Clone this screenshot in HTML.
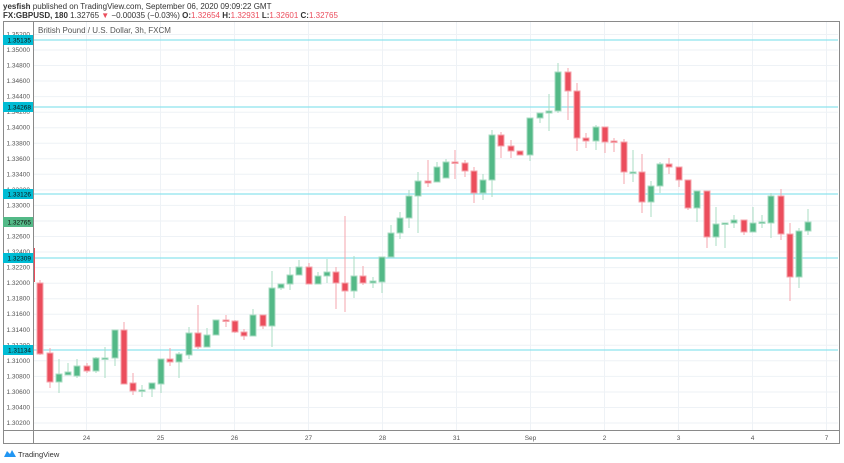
<!DOCTYPE html>
<html><head><meta charset="utf-8"><style>
html,body{margin:0;padding:0;background:#fff;width:844px;height:463px;overflow:hidden;font-family:"Liberation Sans",sans-serif}
</style></head><body>
<svg width="844" height="463" xmlns="http://www.w3.org/2000/svg" font-family="Liberation Sans, sans-serif">
<rect width="844" height="463" fill="#fff"/>
<text x="3" y="9" font-size="8" fill="#333"><tspan font-weight="bold">yesfish</tspan> published on TradingView.com, September 06, 2020 09:09:22 GMT</text>
<text x="3" y="18" font-size="8" fill="#333"><tspan font-weight="bold">FX:GBPUSD, 180</tspan> 1.32765 <tspan fill="#eb4d5c">▼</tspan> −0.00035 (−0.03%) <tspan font-weight="bold">O:</tspan><tspan fill="#eb4d5c">1.32654</tspan> <tspan font-weight="bold">H:</tspan><tspan fill="#eb4d5c">1.32931</tspan> <tspan font-weight="bold">L:</tspan><tspan fill="#eb4d5c">1.32601</tspan> <tspan font-weight="bold">C:</tspan><tspan fill="#eb4d5c">1.32765</tspan></text>
<g stroke="#eef2f6" stroke-width="1">
<line x1="33" x2="838" y1="34.5" y2="34.5"/><line x1="33" x2="838" y1="50" y2="50"/><line x1="33" x2="838" y1="65.5" y2="65.5"/><line x1="33" x2="838" y1="81" y2="81"/><line x1="33" x2="838" y1="96.6" y2="96.6"/><line x1="33" x2="838" y1="112.2" y2="112.2"/><line x1="33" x2="838" y1="127.7" y2="127.7"/><line x1="33" x2="838" y1="143.3" y2="143.3"/><line x1="33" x2="838" y1="158.8" y2="158.8"/><line x1="33" x2="838" y1="174.3" y2="174.3"/><line x1="33" x2="838" y1="189.9" y2="189.9"/><line x1="33" x2="838" y1="205.4" y2="205.4"/><line x1="33" x2="838" y1="221" y2="221"/><line x1="33" x2="838" y1="236.5" y2="236.5"/><line x1="33" x2="838" y1="252" y2="252"/><line x1="33" x2="838" y1="267.6" y2="267.6"/><line x1="33" x2="838" y1="283.2" y2="283.2"/><line x1="33" x2="838" y1="298.7" y2="298.7"/><line x1="33" x2="838" y1="314.2" y2="314.2"/><line x1="33" x2="838" y1="329.8" y2="329.8"/><line x1="33" x2="838" y1="345.3" y2="345.3"/><line x1="33" x2="838" y1="360.8" y2="360.8"/><line x1="33" x2="838" y1="376.4" y2="376.4"/><line x1="33" x2="838" y1="392" y2="392"/><line x1="33" x2="838" y1="407.5" y2="407.5"/><line x1="33" x2="838" y1="423" y2="423"/>
<line x1="86.5" x2="86.5" y1="21" y2="430"/><line x1="160.5" x2="160.5" y1="21" y2="430"/><line x1="234.5" x2="234.5" y1="21" y2="430"/><line x1="308.5" x2="308.5" y1="21" y2="430"/><line x1="382.5" x2="382.5" y1="21" y2="430"/><line x1="456.5" x2="456.5" y1="21" y2="430"/><line x1="530.5" x2="530.5" y1="21" y2="430"/><line x1="604.5" x2="604.5" y1="21" y2="430"/><line x1="678.5" x2="678.5" y1="21" y2="430"/><line x1="752.5" x2="752.5" y1="21" y2="430"/><line x1="826.5" x2="826.5" y1="21" y2="430"/>
</g>
<text x="38" y="33" font-size="8" fill="#555">British Pound / U.S. Dollar, 3h, FXCM</text>
<g stroke="#8ee3ee" stroke-width="1.2">
<line x1="33" x2="838" y1="40" y2="40"/><line x1="33" x2="838" y1="107" y2="107"/><line x1="33" x2="838" y1="194" y2="194"/><line x1="33" x2="838" y1="258" y2="258"/><line x1="33" x2="838" y1="350" y2="350"/>
</g>
<line x1="34.5" x2="34.5" y1="248" y2="282" stroke="#eb4d5c" stroke-width="1"/>
<g id="c">
<script>/* static */</script>
</g>
<g stroke-width="1">
<g stroke="#f4a6ae" fill="#eb4d5c">
<line x1="40" x2="40" y1="280" y2="355"/><rect x="37" y="283" width="6" height="71"/>
<line x1="50" x2="50" y1="348" y2="388"/><rect x="47" y="353" width="6" height="29"/>
<line x1="87" x2="87" y1="363" y2="373"/><rect x="84" y="366" width="6" height="5"/>
<line x1="124" x2="124" y1="322" y2="384"/><rect x="121" y="330" width="6" height="54"/>
<line x1="133" x2="133" y1="373" y2="395"/><rect x="130" y="383" width="6" height="8"/>
<line x1="170" x2="170" y1="348" y2="366"/><rect x="167" y="359" width="6" height="3"/>
<line x1="198" x2="198" y1="305" y2="349"/><rect x="195" y="333" width="6" height="14"/>
<line x1="226" x2="226" y1="315" y2="327"/><rect x="223" y="320" width="6" height="1.5"/>
<line x1="235" x2="235" y1="320" y2="333"/><rect x="232" y="321" width="6" height="11"/>
<line x1="244" x2="244" y1="329" y2="340"/><rect x="241" y="332" width="6" height="4"/>
<line x1="263" x2="263" y1="315" y2="329"/><rect x="260" y="315" width="6" height="11"/>
<line x1="309" x2="309" y1="263" y2="284"/><rect x="306" y="267" width="6" height="17"/>
<line x1="336" x2="336" y1="267" y2="309"/><rect x="333" y="272" width="6" height="11"/>
<line x1="345" x2="345" y1="216" y2="312"/><rect x="342" y="283" width="6" height="8"/>
<line x1="363" x2="363" y1="266" y2="285"/><rect x="360" y="276" width="6" height="7"/>
<line x1="428" x2="428" y1="160" y2="187"/><rect x="425" y="181" width="6" height="2"/>
<line x1="455" x2="455" y1="150" y2="179"/><rect x="452" y="162" width="6" height="1.5"/>
<line x1="465" x2="465" y1="160" y2="177"/><rect x="462" y="163" width="6" height="8"/>
<line x1="474" x2="474" y1="167" y2="203"/><rect x="471" y="171" width="6" height="22"/>
<line x1="501" x2="501" y1="132" y2="158"/><rect x="498" y="135" width="6" height="11"/>
<line x1="511" x2="511" y1="140" y2="158"/><rect x="508" y="146" width="6" height="5"/>
<line x1="520" x2="520" y1="151" y2="155"/><rect x="517" y="151" width="6" height="4"/>
<line x1="568" x2="568" y1="68" y2="120"/><rect x="565" y="72" width="6" height="19"/>
<line x1="577" x2="577" y1="83" y2="151"/><rect x="574" y="91" width="6" height="47"/>
<line x1="586" x2="586" y1="133" y2="148"/><rect x="583" y="138" width="6" height="3"/>
<line x1="605" x2="605" y1="127" y2="153"/><rect x="602" y="127" width="6" height="15"/>
<line x1="614" x2="614" y1="138" y2="152"/><rect x="611" y="141" width="6" height="1.5"/>
<line x1="624" x2="624" y1="139" y2="184"/><rect x="621" y="142" width="6" height="30"/>
<line x1="642" x2="642" y1="154" y2="213"/><rect x="639" y="172" width="6" height="30"/>
<line x1="669" x2="669" y1="158" y2="174"/><rect x="666" y="164" width="6" height="3"/>
<line x1="679" x2="679" y1="167" y2="187"/><rect x="676" y="167" width="6" height="13"/>
<line x1="688" x2="688" y1="180" y2="210"/><rect x="685" y="180" width="6" height="28"/>
<line x1="707" x2="707" y1="191" y2="248"/><rect x="704" y="191" width="6" height="46"/>
<line x1="744" x2="744" y1="220" y2="235"/><rect x="741" y="220" width="6" height="12"/>
<line x1="781" x2="781" y1="189" y2="240"/><rect x="778" y="196" width="6" height="38"/>
<line x1="790" x2="790" y1="223" y2="301"/><rect x="787" y="234" width="6" height="43"/>
</g>
<g stroke="#a9dcc3" fill="#53b987">
<line x1="59" x2="59" y1="359" y2="393"/><rect x="56" y="374" width="6" height="8"/>
<line x1="68" x2="68" y1="363" y2="375"/><rect x="65" y="372" width="6" height="3"/>
<line x1="77" x2="77" y1="359" y2="378"/><rect x="74" y="366" width="6" height="10"/>
<line x1="96" x2="96" y1="357" y2="373"/><rect x="93" y="358" width="6" height="13"/>
<line x1="105" x2="105" y1="347" y2="378"/><rect x="102" y="358" width="6" height="1.5"/>
<line x1="115" x2="115" y1="330" y2="366"/><rect x="112" y="330" width="6" height="28"/>
<line x1="142" x2="142" y1="385" y2="397"/><rect x="139" y="390" width="6" height="1.5"/>
<line x1="152" x2="152" y1="383" y2="397"/><rect x="149" y="383" width="6" height="6"/>
<line x1="161" x2="161" y1="359" y2="393"/><rect x="158" y="359" width="6" height="25"/>
<line x1="179" x2="179" y1="352" y2="378"/><rect x="176" y="354" width="6" height="8"/>
<line x1="189" x2="189" y1="327" y2="359"/><rect x="186" y="333" width="6" height="22"/>
<line x1="207" x2="207" y1="328" y2="347"/><rect x="204" y="335" width="6" height="12"/>
<line x1="216" x2="216" y1="320" y2="335"/><rect x="213" y="320" width="6" height="15"/>
<line x1="253" x2="253" y1="309" y2="336"/><rect x="250" y="315" width="6" height="21"/>
<line x1="272" x2="272" y1="271" y2="347"/><rect x="269" y="288" width="6" height="38"/>
<line x1="281" x2="281" y1="284" y2="290"/><rect x="278" y="284" width="6" height="4"/>
<line x1="290" x2="290" y1="267" y2="290"/><rect x="287" y="275" width="6" height="9"/>
<line x1="299" x2="299" y1="260" y2="275"/><rect x="296" y="267" width="6" height="8"/>
<line x1="318" x2="318" y1="272" y2="284"/><rect x="315" y="276" width="6" height="8"/>
<line x1="327" x2="327" y1="259" y2="283"/><rect x="324" y="272" width="6" height="4"/>
<line x1="354" x2="354" y1="256" y2="298"/><rect x="351" y="276" width="6" height="15"/>
<line x1="373" x2="373" y1="277" y2="288"/><rect x="370" y="281" width="6" height="2"/>
<line x1="382" x2="382" y1="257" y2="293"/><rect x="379" y="257" width="6" height="25"/>
<line x1="391" x2="391" y1="225" y2="257"/><rect x="388" y="233" width="6" height="24"/>
<line x1="400" x2="400" y1="212" y2="239"/><rect x="397" y="218" width="6" height="15"/>
<line x1="409" x2="409" y1="190" y2="228"/><rect x="406" y="196" width="6" height="22"/>
<line x1="418" x2="418" y1="172" y2="233"/><rect x="415" y="181" width="6" height="15"/>
<line x1="437" x2="437" y1="162" y2="182"/><rect x="434" y="167" width="6" height="15"/>
<line x1="446" x2="446" y1="159" y2="178"/><rect x="443" y="162" width="6" height="16"/>
<line x1="483" x2="483" y1="174" y2="200"/><rect x="480" y="180" width="6" height="13"/>
<line x1="492" x2="492" y1="130" y2="197"/><rect x="489" y="135" width="6" height="45"/>
<line x1="530" x2="530" y1="118" y2="161"/><rect x="527" y="118" width="6" height="37"/>
<line x1="540" x2="540" y1="113" y2="123"/><rect x="537" y="113" width="6" height="5"/>
<line x1="549" x2="549" y1="94" y2="131"/><rect x="546" y="111" width="6" height="2"/>
<line x1="558" x2="558" y1="63" y2="113"/><rect x="555" y="72" width="6" height="39"/>
<line x1="596" x2="596" y1="125" y2="150"/><rect x="593" y="127" width="6" height="14"/>
<line x1="633" x2="633" y1="150" y2="182"/><rect x="630" y="172" width="6" height="1.5"/>
<line x1="651" x2="651" y1="181" y2="217"/><rect x="648" y="186" width="6" height="16"/>
<line x1="660" x2="660" y1="162" y2="193"/><rect x="657" y="164" width="6" height="22"/>
<line x1="697" x2="697" y1="191" y2="222"/><rect x="694" y="191" width="6" height="17"/>
<line x1="716" x2="716" y1="207" y2="246"/><rect x="713" y="224" width="6" height="13"/>
<line x1="725" x2="725" y1="223" y2="248"/><rect x="722" y="223" width="6" height="1.5"/>
<line x1="734" x2="734" y1="215" y2="228"/><rect x="731" y="220" width="6" height="3"/>
<line x1="753" x2="753" y1="207" y2="232"/><rect x="750" y="223" width="6" height="9"/>
<line x1="762" x2="762" y1="215" y2="228"/><rect x="759" y="222" width="6" height="1.5"/>
<line x1="771" x2="771" y1="193" y2="238"/><rect x="768" y="196" width="6" height="27"/>
<line x1="799" x2="799" y1="228" y2="288"/><rect x="796" y="231" width="6" height="46"/>
<line x1="808" x2="808" y1="209" y2="235"/><rect x="805" y="222" width="6" height="9"/>
</g>
</g>
<rect x="3" y="21" width="30" height="423" fill="#fff"/>
<rect x="3.5" y="21.5" width="836" height="422" fill="none" stroke="#8a8a8a" stroke-width="1"/>
<line x1="33.5" x2="33.5" y1="21" y2="444" stroke="#8a8a8a"/>
<line x1="3" x2="840" y1="430.5" y2="430.5" stroke="#8a8a8a"/>
<g font-size="6.5" fill="#555" text-anchor="end">
<text x="30" y="36.5">1.35200</text><text x="30" y="52">1.35000</text><text x="30" y="67.5">1.34800</text><text x="30" y="83">1.34600</text><text x="30" y="98.6">1.34400</text><text x="30" y="114.2">1.34200</text><text x="30" y="129.7">1.34000</text><text x="30" y="145.3">1.33800</text><text x="30" y="160.8">1.33600</text><text x="30" y="176.3">1.33400</text><text x="30" y="191.9">1.33200</text><text x="30" y="207.4">1.33000</text><text x="30" y="223">1.32800</text><text x="30" y="238.5">1.32600</text><text x="30" y="254">1.32400</text><text x="30" y="269.6">1.32200</text><text x="30" y="285.2">1.32000</text><text x="30" y="300.7">1.31800</text><text x="30" y="316.2">1.31600</text><text x="30" y="331.8">1.31400</text><text x="30" y="347.3">1.31200</text><text x="30" y="362.8">1.31000</text><text x="30" y="378.4">1.30800</text><text x="30" y="394">1.30600</text><text x="30" y="409.5">1.30400</text><text x="30" y="425">1.30200</text>
</g>
<g fill="#00bcd4">
<rect x="3" y="35" width="30" height="10"/><rect x="3" y="102" width="30" height="10"/><rect x="3" y="189" width="30" height="10"/><rect x="3" y="253" width="30" height="10"/><rect x="3" y="345" width="30" height="10"/>
</g>
<rect x="3" y="217" width="30" height="10" fill="#53b987"/>
<g font-size="6.5" fill="#111" text-anchor="end">
<text x="31" y="42.5">1.35135</text><text x="31" y="109.5">1.34268</text><text x="31" y="196.5">1.33126</text><text x="31" y="260.5">1.32309</text><text x="31" y="352.5">1.31134</text><text x="31" y="224.5">1.32765</text>
</g>
<g font-size="6.5" fill="#555" text-anchor="middle">
<text x="86.5" y="440">24</text><text x="160.5" y="440">25</text><text x="234.5" y="440">26</text><text x="308.5" y="440">27</text><text x="382.5" y="440">28</text><text x="456.5" y="440">31</text><text x="530.5" y="440">Sep</text><text x="604.5" y="440">2</text><text x="678.5" y="440">3</text><text x="752.5" y="440">4</text><text x="826.5" y="440">7</text>
</g>
<path d="M4 457 L7 451 L10 454 L12 450 L16 457 Z" fill="#2196f3"/>
<text x="18" y="457" font-size="7.5" fill="#333">TradingView</text>
</svg>
</body></html>
